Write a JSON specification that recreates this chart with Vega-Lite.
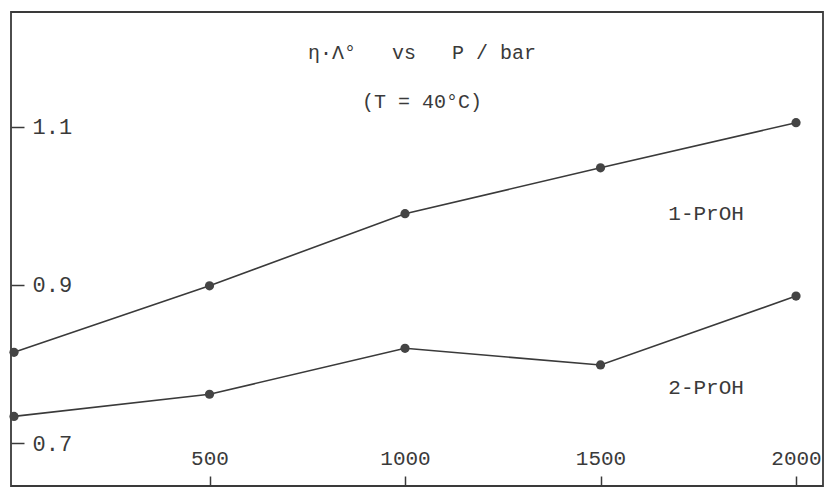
{
  "$schema": "https://vega.github.io/schema/vega-lite/v6.json",
  "width": 812,
  "height": 474,
  "autosize": {"type": "none"},
  "padding": {"left": 11, "top": 12, "right": 5, "bottom": 1},
  "background": "white",
  "config": {
    "view": {"stroke": "#3a3a3a", "strokeWidth": 1.8},
    "font": "Liberation Mono"
  },
  "title": {
    "text": "η·Λ°\u00a0\u00a0\u00a0vs\u00a0\u00a0\u00a0P / bar",
    "subtitle": "(T = 40°C)",
    "offset": -100,
    "dx": 5,
    "anchor": "middle",
    "font": "Liberation Mono",
    "fontSize": 20,
    "fontWeight": "normal",
    "color": "#3a3a3a",
    "subtitleFont": "Liberation Mono",
    "subtitleFontSize": 20,
    "subtitleColor": "#3a3a3a",
    "subtitlePadding": 29
  },
  "datasets": {
    "pts": [
      {"P": 0, "v": 0.815, "series": "1-PrOH"},
      {"P": 500, "v": 0.899, "series": "1-PrOH"},
      {"P": 1000, "v": 0.990, "series": "1-PrOH"},
      {"P": 1500, "v": 1.048, "series": "1-PrOH"},
      {"P": 2000, "v": 1.105, "series": "1-PrOH"},
      {"P": 0, "v": 0.734, "series": "2-PrOH"},
      {"P": 500, "v": 0.762, "series": "2-PrOH"},
      {"P": 1000, "v": 0.820, "series": "2-PrOH"},
      {"P": 1500, "v": 0.799, "series": "2-PrOH"},
      {"P": 2000, "v": 0.886, "series": "2-PrOH"}
    ],
    "labels": [
      {"P": 1770, "v": 0.990, "label": "1-PrOH"},
      {"P": 1770, "v": 0.770, "label": "2-PrOH"}
    ]
  },
  "layer": [
    {
      "data": {"name": "pts"},
      "mark": {"type": "line", "color": "#3a3a3a", "strokeWidth": 1.6},
      "encoding": {
        "x": {
          "field": "P", "type": "quantitative",
          "scale": {"domain": [-7.7, 2069], "nice": false, "zero": false},
          "axis": {
            "orient": "bottom", "values": [500, 1000, 1500, 2000], "format": "d",
            "title": null, "grid": false, "domain": false, "offset": -10,
            "tickSize": 10, "tickColor": "#3a3a3a", "tickWidth": 1.5,
            "labelBaseline": "middle", "labelPadding": -28,
            "labelFont": "Liberation Mono", "labelFontSize": 21, "labelColor": "#3a3a3a"
          }
        },
        "y": {
          "field": "v", "type": "quantitative",
          "scale": {"domain": [0.6461, 1.2448], "nice": false, "zero": false},
          "axis": {
            "orient": "left", "values": [0.7, 0.9, 1.1], "format": ".1f",
            "title": null, "grid": false, "domain": false, "offset": -13,
            "tickSize": 13, "tickColor": "#3a3a3a", "tickWidth": 1.5,
            "labelAlign": "left", "labelBaseline": "middle", "labelPadding": -21,
            "labelFont": "Liberation Mono", "labelFontSize": 22, "labelColor": "#3a3a3a"
          }
        },
        "detail": {"field": "series"}
      }
    },
    {
      "data": {"name": "pts"},
      "mark": {"type": "circle", "size": 85, "color": "#444", "opacity": 1},
      "encoding": {
        "x": {"field": "P", "type": "quantitative"},
        "y": {"field": "v", "type": "quantitative"}
      }
    },
    {
      "data": {"name": "labels"},
      "mark": {"type": "text", "font": "Liberation Mono", "fontSize": 21, "color": "#3a3a3a", "align": "center", "baseline": "middle"},
      "encoding": {
        "x": {"field": "P", "type": "quantitative"},
        "y": {"field": "v", "type": "quantitative"},
        "text": {"field": "label"}
      }
    }
  ]
}
